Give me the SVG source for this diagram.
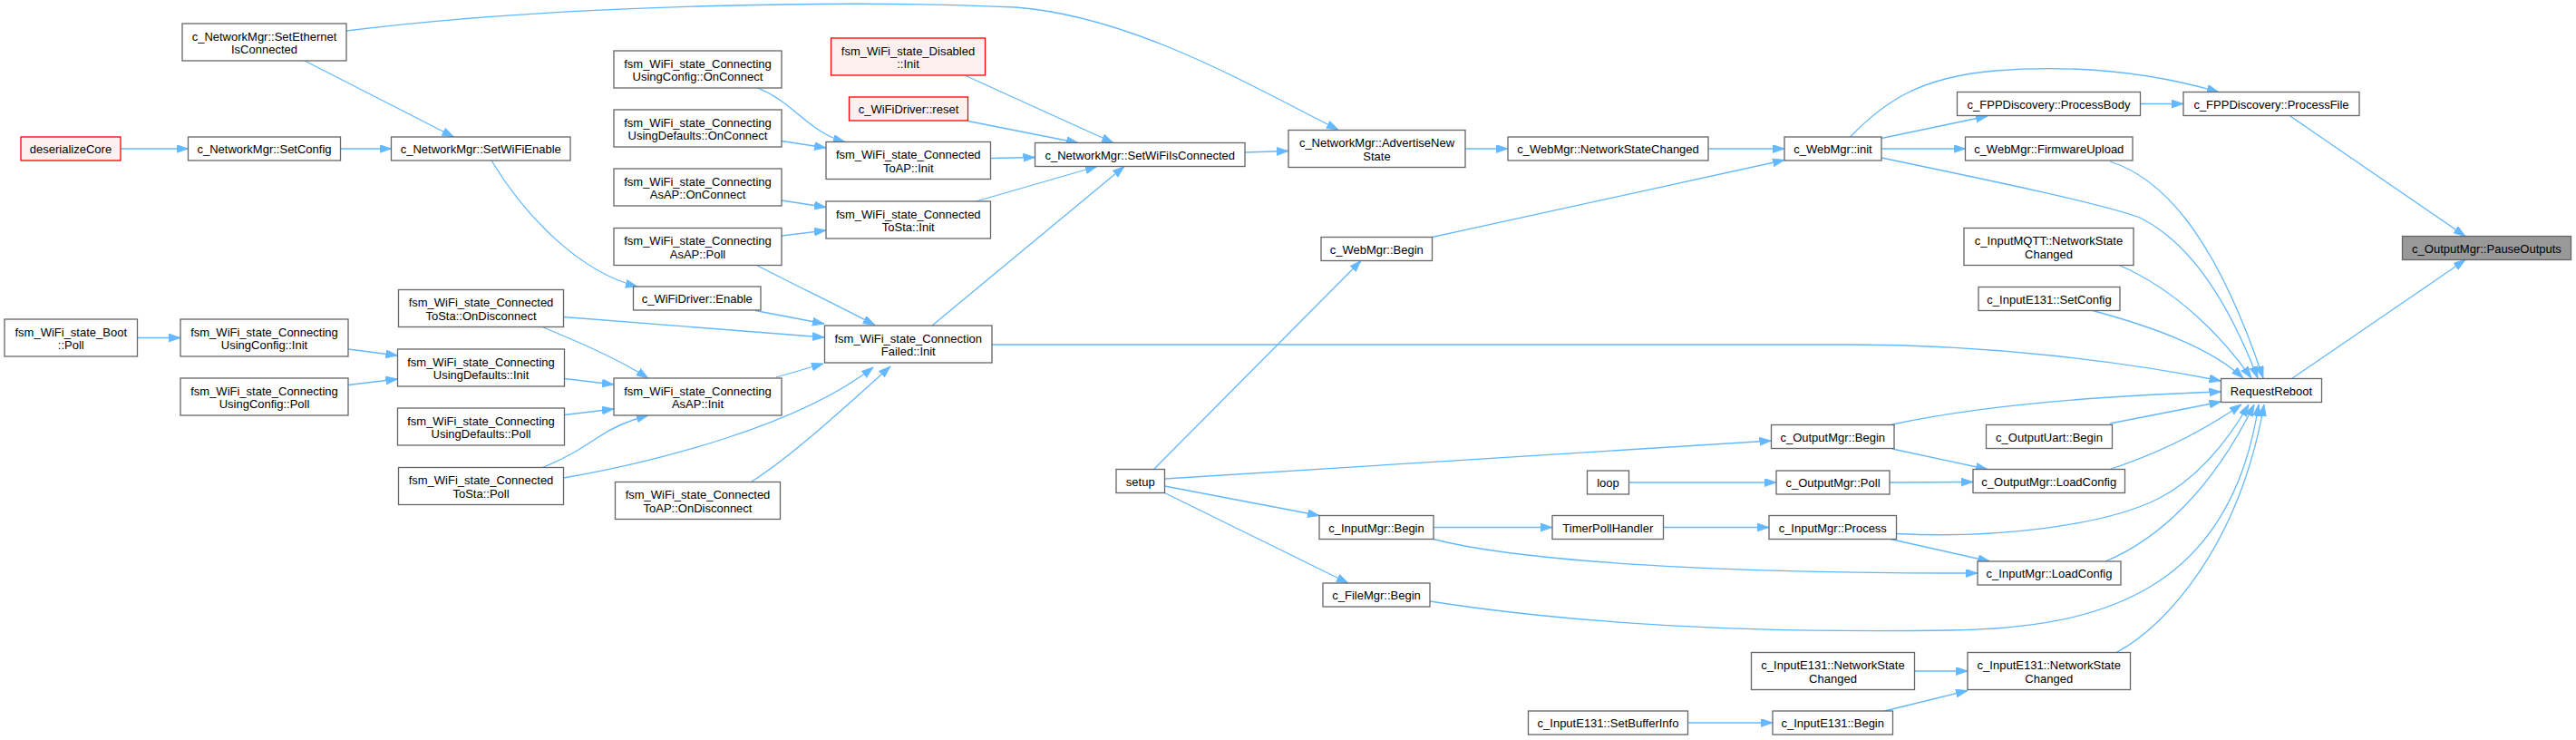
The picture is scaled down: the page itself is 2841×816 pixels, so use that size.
<svg xmlns="http://www.w3.org/2000/svg" width="2841" height="816" viewBox="0 0 2841 816">
<style>
.n rect{fill:#ffffff;stroke:#666666;stroke-width:1.3}
.n.red rect{fill:#fff0f0;stroke:#ff0000}
.n.cur rect{fill:#999999;stroke:#666666}
.n text{font-family:"Liberation Sans",Arial,sans-serif;font-size:13px;fill:#000000;text-anchor:middle}
#edges path{fill:none;stroke:#63b8ff;stroke-width:1.3;marker-end:url(#arr)}
</style>
<defs>
<marker id="arr" markerUnits="userSpaceOnUse" markerWidth="15" markerHeight="11" refX="13" refY="4.5" orient="auto">
<path d="M0,0 L13,4.5 L0,9 z" fill="#63b8ff" stroke="#63b8ff" stroke-width="0.8"/>
</marker>
</defs>
<rect width="2841" height="816" fill="#ffffff"/>
<g id="edges">
<path d="M382,34 C620,4 950,0 1120,8 C1250,18 1380,95 1476,143"/>
<path d="M336,67 L500.5,151"/>
<path d="M133,164 L207.5,164"/>
<path d="M375.5,164 L431.5,164"/>
<path d="M542,177 C580,240 640,300 703,316"/>
<path d="M151.5,372.5 L199,372.5"/>
<path d="M384,385 L438.5,392"/>
<path d="M384,424.5 L438.5,418"/>
<path d="M621.5,349.5 L909,372"/>
<path d="M597,360 C640,378 680,395 715,417"/>
<path d="M622.5,417.5 L677,424"/>
<path d="M622.5,457.5 L677,451"/>
<path d="M597,516 C625,505 640,495 660,482 C680,468 700,462 715,458"/>
<path d="M621.5,527 C720,510 880,470 963,405"/>
<path d="M829,531 C870,505 920,460 982,404"/>
<path d="M856,416 L908,401"/>
<path d="M833,342.5 L909,357"/>
<path d="M835.5,293 C880,316 920,335 965,358.5"/>
<path d="M835.5,97 C875,112 890,145 932,156.5"/>
<path d="M862,155.5 L911,163"/>
<path d="M862,221 L911,228.5"/>
<path d="M862,260 L911,254"/>
<path d="M1065,83.5 L1228,157.5"/>
<path d="M1067.5,133.5 L1189,157.5"/>
<path d="M1092.5,174.5 L1141.5,173.5"/>
<path d="M1076.5,222 L1210,183.5"/>
<path d="M1028,359 L1240,183.5"/>
<path d="M1373,168 L1421,166.5"/>
<path d="M1616,164 L1663,164"/>
<path d="M1884,164 L1968,164"/>
<path d="M1579.5,261.5 L1968,176.5"/>
<path d="M1272.5,517.5 L1501,287.5"/>
<path d="M1094,380 L2040,380 C2200,380 2350,400 2449.5,420"/>
<path d="M1284.5,528 L1953.5,486"/>
<path d="M1284.5,536 L1455,568.5"/>
<path d="M1284.5,543.5 L1487,643"/>
<path d="M1796.5,532 L1959,532"/>
<path d="M1581,581.5 L1712,581.5"/>
<path d="M1834.5,581.5 L1951,581.5"/>
<path d="M1581,594.5 C1680,620 1900,632 2181,632"/>
<path d="M2085,594.5 L2194.5,619"/>
<path d="M2091.5,588.5 C2200,594 2320,580 2380,550 C2420,530 2455,490 2480,446"/>
<path d="M2087,468 C2180,448 2300,437 2449.5,432"/>
<path d="M2087,495 L2192,517.5"/>
<path d="M2084,532 L2176,531.5"/>
<path d="M2327,517.5 C2380,500 2430,475 2472,446"/>
<path d="M2327,467 L2449.5,443"/>
<path d="M2322,619 C2380,595 2440,540 2486,446"/>
<path d="M1577,663 C1750,690 1950,698 2150,695 C2320,693 2460,650 2491,446"/>
<path d="M2334,719.5 C2390,690 2470,600 2497,446"/>
<path d="M2111.5,740 L2170,740"/>
<path d="M1861.5,797 L1955,797"/>
<path d="M2078.5,784 L2170,761.5"/>
<path d="M2527.5,417.5 L2719,286.5"/>
<path d="M2525,127.5 L2719,260.5"/>
<path d="M2360.5,114.5 L2408,114.5"/>
<path d="M2075,152.5 L2192,128"/>
<path d="M2040.5,151 C2080,110 2120,85 2200,78 C2300,70 2380,82 2447,101.5"/>
<path d="M2075,164 L2167.5,164"/>
<path d="M2075,174 C2200,200 2320,225 2360,240 C2420,270 2460,340 2490,417"/>
<path d="M2327,178 C2380,195 2440,250 2496,417"/>
<path d="M2338.5,293 C2400,320 2450,370 2483,417"/>
<path d="M2308,342.5 C2380,362 2440,385 2474,417"/>
</g>
<g id="n1" class="n"><rect x="201" y="26" width="181" height="41"/><text x="291.5" y="44.5">c_NetworkMgr::SetEthernet</text><text x="291.5" y="59">IsConnected</text></g>
<g id="n2" class="n red"><rect x="23" y="151" width="110" height="26"/><text x="78" y="169">deserializeCore</text></g>
<g id="n3" class="n"><rect x="207.5" y="151" width="168" height="26"/><text x="291.5" y="169">c_NetworkMgr::SetConfig</text></g>
<g id="n4" class="n"><rect x="431.5" y="151" width="197.5" height="26"/><text x="530.25" y="169">c_NetworkMgr::SetWiFiEnable</text></g>
<g id="n5" class="n"><rect x="5" y="352" width="146.5" height="41"/><text x="78.25" y="370.5">fsm_WiFi_state_Boot</text><text x="78.25" y="385">::Poll</text></g>
<g id="n6" class="n"><rect x="199" y="352" width="185" height="41"/><text x="291.5" y="370.5">fsm_WiFi_state_Connecting</text><text x="291.5" y="385">UsingConfig::Init</text></g>
<g id="n7" class="n"><rect x="199" y="417" width="185" height="41"/><text x="291.5" y="435.5">fsm_WiFi_state_Connecting</text><text x="291.5" y="450">UsingConfig::Poll</text></g>
<g id="n8" class="n"><rect x="439.5" y="319.5" width="182" height="41"/><text x="530.5" y="338">fsm_WiFi_state_Connected</text><text x="530.5" y="352.5">ToSta::OnDisconnect</text></g>
<g id="n9" class="n"><rect x="438.5" y="385" width="184" height="41"/><text x="530.5" y="403.5">fsm_WiFi_state_Connecting</text><text x="530.5" y="418">UsingDefaults::Init</text></g>
<g id="n10" class="n"><rect x="438.5" y="450" width="184" height="41"/><text x="530.5" y="468.5">fsm_WiFi_state_Connecting</text><text x="530.5" y="483">UsingDefaults::Poll</text></g>
<g id="n11" class="n"><rect x="439.5" y="515.5" width="182" height="41"/><text x="530.5" y="534">fsm_WiFi_state_Connected</text><text x="530.5" y="548.5">ToSta::Poll</text></g>
<g id="n12" class="n"><rect x="677" y="56" width="185" height="41"/><text x="769.5" y="74.5">fsm_WiFi_state_Connecting</text><text x="769.5" y="89">UsingConfig::OnConnect</text></g>
<g id="n13" class="n"><rect x="677" y="121" width="185" height="41"/><text x="769.5" y="139.5">fsm_WiFi_state_Connecting</text><text x="769.5" y="154">UsingDefaults::OnConnect</text></g>
<g id="n14" class="n"><rect x="677" y="186" width="185" height="41"/><text x="769.5" y="204.5">fsm_WiFi_state_Connecting</text><text x="769.5" y="219">AsAP::OnConnect</text></g>
<g id="n15" class="n"><rect x="677" y="251.5" width="185" height="41"/><text x="769.5" y="270">fsm_WiFi_state_Connecting</text><text x="769.5" y="284.5">AsAP::Poll</text></g>
<g id="n16" class="n"><rect x="698.5" y="316" width="140.5" height="26"/><text x="768.75" y="334">c_WiFiDriver::Enable</text></g>
<g id="n17" class="n"><rect x="677" y="417" width="185" height="41"/><text x="769.5" y="435.5">fsm_WiFi_state_Connecting</text><text x="769.5" y="450">AsAP::Init</text></g>
<g id="n18" class="n"><rect x="678.5" y="531.5" width="182" height="41"/><text x="769.5" y="550">fsm_WiFi_state_Connected</text><text x="769.5" y="564.5">ToAP::OnDisconnect</text></g>
<g id="n19" class="n red"><rect x="916.5" y="42" width="170" height="41"/><text x="1001.5" y="60.5">fsm_WiFi_state_Disabled</text><text x="1001.5" y="75">::Init</text></g>
<g id="n20" class="n red"><rect x="936.5" y="107" width="131" height="26"/><text x="1002" y="125">c_WiFiDriver::reset</text></g>
<g id="n21" class="n"><rect x="911" y="156.5" width="181.5" height="41"/><text x="1001.75" y="175">fsm_WiFi_state_Connected</text><text x="1001.75" y="189.5">ToAP::Init</text></g>
<g id="n22" class="n"><rect x="911" y="222" width="181.5" height="41"/><text x="1001.75" y="240.5">fsm_WiFi_state_Connected</text><text x="1001.75" y="255">ToSta::Init</text></g>
<g id="n23" class="n"><rect x="909.5" y="359" width="184.5" height="41"/><text x="1001.75" y="377.5">fsm_WiFi_state_Connection</text><text x="1001.75" y="392">Failed::Init</text></g>
<g id="n24" class="n"><rect x="1141.5" y="157.5" width="231.5" height="26"/><text x="1257.25" y="175.5">c_NetworkMgr::SetWiFiIsConnected</text></g>
<g id="n25" class="n"><rect x="1421" y="143.5" width="195" height="41"/><text x="1518.5" y="162">c_NetworkMgr::AdvertiseNew</text><text x="1518.5" y="176.5">State</text></g>
<g id="n26" class="n"><rect x="1663" y="151" width="221" height="26"/><text x="1773.5" y="169">c_WebMgr::NetworkStateChanged</text></g>
<g id="n27" class="n"><rect x="1968" y="151" width="107" height="26"/><text x="2021.5" y="169">c_WebMgr::init</text></g>
<g id="n28" class="n"><rect x="1457" y="261.5" width="122.5" height="26"/><text x="1518.25" y="279.5">c_WebMgr::Begin</text></g>
<g id="n29" class="n"><rect x="1231" y="517.5" width="53.5" height="26"/><text x="1257.75" y="535.5">setup</text></g>
<g id="n30" class="n"><rect x="1953.5" y="468.5" width="135.5" height="26"/><text x="2021.25" y="486.5">c_OutputMgr::Begin</text></g>
<g id="n31" class="n"><rect x="1750.5" y="519" width="46" height="26"/><text x="1773.5" y="537">loop</text></g>
<g id="n32" class="n"><rect x="1959" y="519" width="125" height="26"/><text x="2021.5" y="537">c_OutputMgr::Poll</text></g>
<g id="n33" class="n"><rect x="1455" y="568.5" width="126" height="26"/><text x="1518" y="586.5">c_InputMgr::Begin</text></g>
<g id="n34" class="n"><rect x="1712" y="568.5" width="122.5" height="26"/><text x="1773.25" y="586.5">TimerPollHandler</text></g>
<g id="n35" class="n"><rect x="1951" y="568.5" width="140.5" height="26"/><text x="2021.25" y="586.5">c_InputMgr::Process</text></g>
<g id="n36" class="n"><rect x="1459" y="643" width="118" height="26"/><text x="1518" y="661">c_FileMgr::Begin</text></g>
<g id="n37" class="n"><rect x="1931.5" y="719.5" width="180" height="41"/><text x="2021.5" y="738">c_InputE131::NetworkState</text><text x="2021.5" y="752.5">Changed</text></g>
<g id="n38" class="n"><rect x="1685.5" y="784" width="176" height="26"/><text x="1773.5" y="802">c_InputE131::SetBufferInfo</text></g>
<g id="n39" class="n"><rect x="1955" y="784" width="132.5" height="26"/><text x="2021.25" y="802">c_InputE131::Begin</text></g>
<g id="n40" class="n"><rect x="2158.5" y="101.5" width="202" height="26"/><text x="2259.5" y="119.5">c_FPPDiscovery::ProcessBody</text></g>
<g id="n41" class="n"><rect x="2408" y="101.5" width="194" height="26"/><text x="2505" y="119.5">c_FPPDiscovery::ProcessFile</text></g>
<g id="n42" class="n"><rect x="2167.5" y="151" width="184.5" height="26"/><text x="2259.75" y="169">c_WebMgr::FirmwareUpload</text></g>
<g id="n43" class="n cur"><rect x="2649.5" y="260.5" width="186" height="26"/><text x="2742.5" y="278.5">c_OutputMgr::PauseOutputs</text></g>
<g id="n44" class="n"><rect x="2166" y="251.5" width="187" height="41"/><text x="2259.5" y="270">c_InputMQTT::NetworkState</text><text x="2259.5" y="284.5">Changed</text></g>
<g id="n45" class="n"><rect x="2182" y="316.5" width="156" height="26"/><text x="2260" y="334.5">c_InputE131::SetConfig</text></g>
<g id="n46" class="n"><rect x="2449.5" y="417.5" width="111" height="26"/><text x="2505" y="435.5">RequestReboot</text></g>
<g id="n47" class="n"><rect x="2190.5" y="468.5" width="139" height="26"/><text x="2260" y="486.5">c_OutputUart::Begin</text></g>
<g id="n48" class="n"><rect x="2176" y="517.5" width="167.5" height="26"/><text x="2259.75" y="535.5">c_OutputMgr::LoadConfig</text></g>
<g id="n49" class="n"><rect x="2181" y="619" width="158" height="26"/><text x="2260" y="637">c_InputMgr::LoadConfig</text></g>
<g id="n50" class="n"><rect x="2170" y="719.5" width="179.5" height="41"/><text x="2259.75" y="738">c_InputE131::NetworkState</text><text x="2259.75" y="752.5">Changed</text></g>
</svg>
